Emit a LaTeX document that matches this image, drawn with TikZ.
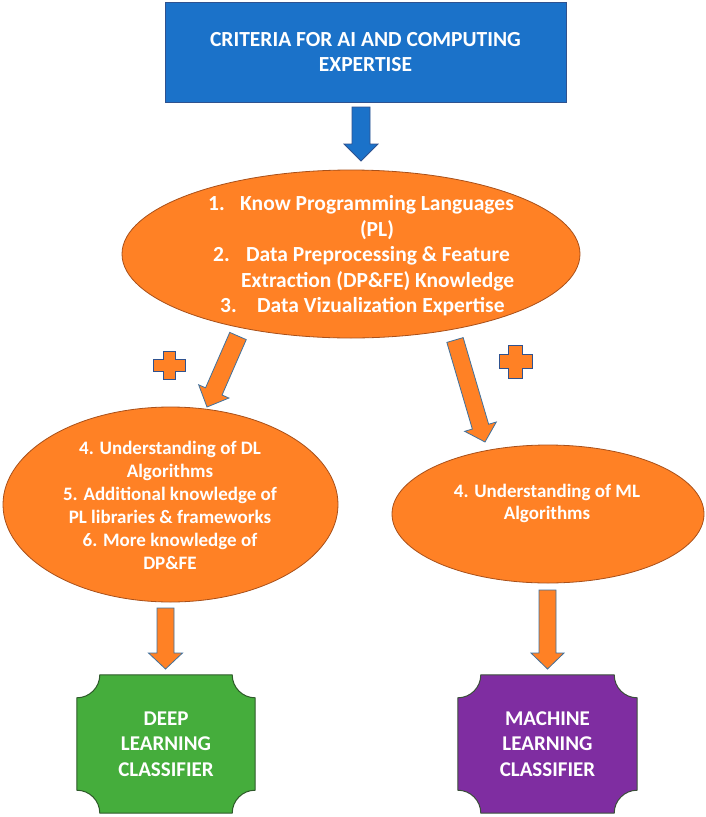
\documentclass[tikz,border=0pt]{standalone}
\usepackage{fontspec}
\setmainfont{Carlito}
\usetikzlibrary{calc,shapes.geometric}
\definecolor{boxblue}{HTML}{1B72C9}
\definecolor{boxblueline}{HTML}{2F528F}
\definecolor{orfill}{HTML}{FF8125}
\definecolor{orline}{HTML}{A8501A}
\definecolor{arrline}{HTML}{41719C}
\definecolor{grfill}{HTML}{45AD3C}
\definecolor{grline}{HTML}{2E5A2A}
\definecolor{pufill}{HTML}{7F2DA1}
\definecolor{puline}{HTML}{3B4F3A}
\newcommand{\blockarrow}[6]{% start, end, half shaft, half head, head length, name
  \coordinate (#6n) at ($(#2)!#5!(#1)$);
  \draw[blockarr] ($(#1)!#3!90:(#2)$) -- ($(#6n)!#3!-90:(#1)$) -- ($(#6n)!#4!-90:(#1)$) -- (#2)
    -- ($(#6n)!#4!90:(#1)$) -- ($(#6n)!#3!90:(#1)$) -- ($(#1)!#3!-90:(#2)$) -- cycle;
}
\newcommand{\plusmark}[5]{% x, y, half width, half height, half arm
  \draw[plusstyle] ({#1-#5},{#2-#4}) -- ({#1+#5},{#2-#4}) -- ({#1+#5},{#2-#5}) -- ({#1+#3},{#2-#5})
    -- ({#1+#3},{#2+#5}) -- ({#1+#5},{#2+#5}) -- ({#1+#5},{#2+#4}) -- ({#1-#5},{#2+#4})
    -- ({#1-#5},{#2+#5}) -- ({#1-#3},{#2+#5}) -- ({#1-#3},{#2-#5}) -- ({#1-#5},{#2-#5}) -- cycle;
}
\newcommand{\plaque}[3]{% node, fill, line
  \draw[fill=#2, draw=#3, line width=1pt] let \p1=(#1.north west), \p2=(#1.south east) in
    ({\x1+23pt},\y1) -- ({\x2-23pt},\y1)
    .. controls ({\x2-23pt},{\y1-12.7pt}) and ({\x2-12.7pt},{\y1-23pt}) .. (\x2,{\y1-23pt})
    -- (\x2,{\y2+23pt})
    .. controls ({\x2-12.7pt},{\y2+23pt}) and ({\x2-23pt},{\y2+12.7pt}) .. ({\x2-23pt},\y2)
    -- ({\x1+23pt},\y2)
    .. controls ({\x1+23pt},{\y2+12.7pt}) and ({\x1+12.7pt},{\y2+23pt}) .. (\x1,{\y2+23pt})
    -- (\x1,{\y1-23pt})
    .. controls ({\x1+12.7pt},{\y1-23pt}) and ({\x1+23pt},{\y1-12.7pt}) .. ({\x1+23pt},\y1) -- cycle;
}
\tikzset{
  topbox/.style={rectangle, fill=boxblue, draw=boxblueline, line width=1pt, text=white, align=center,
    font=\fontsize{21.5}{25}\selectfont\bfseries},
  ell/.style={ellipse, fill=orfill, draw=orline, line width=0.8pt, inner sep=0pt},
  txt/.style={text=white, font=\fontsize{21.5}{25}\selectfont\bfseries, inner sep=0pt},
  smalltxt/.style={text=white, align=center, font=\fontsize{19}{23}\selectfont\bfseries, inner sep=0pt},
  mltxt/.style={text=white, align=center, font=\fontsize{19}{22}\selectfont\bfseries, inner sep=0pt},
  cltxt/.style={text=white, align=center, font=\fontsize{21}{25.5}\selectfont\bfseries, inner sep=0pt},
  blockarr/.style={fill=orfill, draw=arrline, line width=0.8pt, line join=miter},
  plusstyle/.style={fill=orfill, draw=boxblueline, line width=1pt},
  plq/.style={rectangle, inner sep=0pt}
}
\begin{document}
\begin{tikzpicture}[x=1pt,y=-1pt]
\fill[white] (0,0) rectangle (706,817);
\useasboundingbox (0,0) rectangle (706,817);

% top box
\node[topbox, minimum width=401, minimum height=100] (top) at (365.5,52) {CRITERIA FOR AI AND COMPUTING\\EXPERTISE};

% ellipses
\node[ell, minimum width=458, minimum height=168] (e1) at (351,254) {};
\node[ell, minimum width=335, minimum height=195] (e2) at (170.5,504.5) {};
\node[ell, minimum width=312, minimum height=138] (e3) at (548,514) {};

% top ellipse text
\node[txt, anchor=base west] (t1) at (208,210) {\makebox[32pt][l]{1.}Know Programming Languages};
\node[txt, anchor=base] (t2) at (377,236) {(PL)};
\node[txt, anchor=base west] (t3) at (213,261) {\makebox[33pt][l]{2.}Data Preprocessing \& Feature};
\node[txt, anchor=base west] (t4) at (241,287) {Extraction (DP\&FE) Knowledge};
\node[txt, anchor=base west] (t5) at (220,312) {\makebox[37pt][l]{3.}Data Vizualization Expertise};

% left ellipse text
\node[smalltxt] (dltext) at (170,505) {4. Understanding of DL\\Algorithms\\5. Additional knowledge of\\PL libraries \& frameworks\\6. More knowledge of\\DP\&FE};

% right ellipse text
\node[mltxt] (mltext) at (547,503) {4. Understanding of ML\\Algorithms};

% bottom boxes
\node[plq, minimum width=178, minimum height=138] (dl) at (166,744) {};
\node[plq, minimum width=179, minimum height=138] (ml) at (547.5,744) {};
\plaque{dl}{grfill}{grline}
\plaque{ml}{pufill}{puline}
\node[cltxt] (dllab) at (dl.center) {DEEP\\LEARNING\\CLASSIFIER};
\node[cltxt] (mllab) at (ml.center) {MACHINE\\LEARNING\\CLASSIFIER};

% arrow endpoints
\coordinate (a1s) at (361,107);
\coordinate (a1e) at (361,161);
\coordinate (a2s) at (238,336);
\coordinate (a2e) at (207,407);
\coordinate (a3s) at (455,340);
\coordinate (a3e) at (485,442);
\coordinate (a4s) at (165.5,608);
\coordinate (a4e) at (165.5,669);
\coordinate (a5s) at (547.5,590);
\coordinate (a5e) at (547.5,669);

\begin{scope}[blockarr/.style={fill=boxblue, draw=boxblueline, line width=0.8pt, line join=miter}]
\blockarrow{a1s}{a1e}{9pt}{17pt}{17pt}{ba}
\end{scope}
\blockarrow{a2s}{a2e}{9pt}{16.5pt}{17pt}{bb}
\blockarrow{a3s}{a3e}{8.5pt}{16.5pt}{16pt}{bc}
\blockarrow{a4s}{a4e}{8.5pt}{17pt}{16pt}{bd}
\blockarrow{a5s}{a5e}{8.5pt}{16.5pt}{16pt}{be}

% plus signs
\plusmark{169}{365.5}{16}{14}{6}
\plusmark{515.5}{361.5}{16.5}{16.5}{7}
\end{tikzpicture}
\end{document}
